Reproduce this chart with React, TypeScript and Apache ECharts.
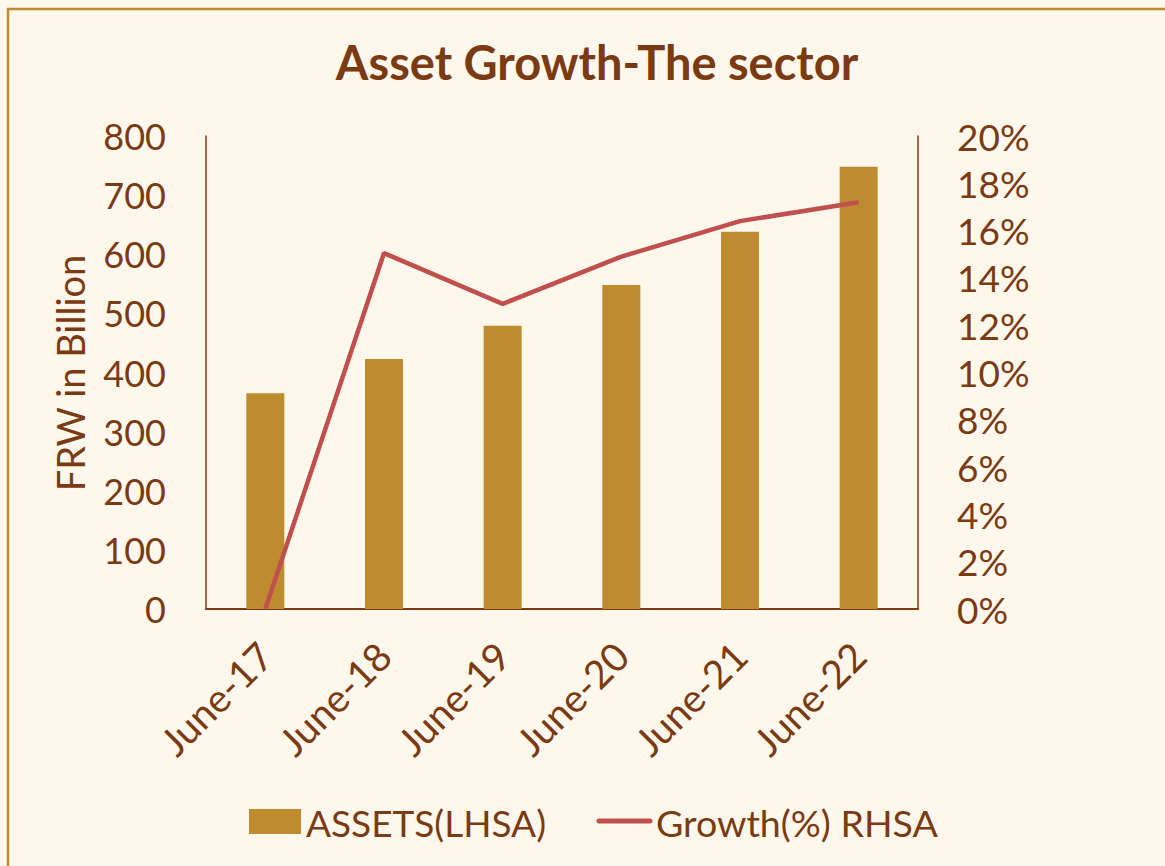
import React, { useEffect, useRef } from "react";
import * as echarts from "echarts";

const categories = ["June-17", "June-18", "June-19", "June-20", "June-21", "June-22"];
const assets = [365, 423, 479, 548, 638, 748];
const growth = [0, 15.05, 12.9, 14.9, 16.4, 17.2];
const legendNames = ["ASSETS(LHSA)", "Growth(%) RHSA"];
const titleText = "Asset Growth-The sector";

const TEXT = "#7A3A12";
const BAR = "#BE8C2E";
const LINE = "#C0504D";
const FONT = "Lato, 'Noto Sans', sans-serif";

export default function App() {
  const ref = useRef<HTMLDivElement>(null);
  useEffect(() => {
    if (!ref.current) return;
    const chart = echarts.init(ref.current, null, { renderer: "svg" });
    chart.setOption({
      animation: false,
      backgroundColor: "#FEF7EC",
      textStyle: { fontFamily: FONT, color: TEXT },
      title: {
        text: titleText,
        left: 592,
        textAlign: "center",
        top: 33,
        textStyle: { fontFamily: FONT, fontSize: 47, fontWeight: "bold", color: TEXT },
      },
      graphic: [
        {
          type: "rect",
          shape: { x: 8, y: 9, width: 1200, height: 900 },
          style: { fill: "none", stroke: "#BE8C2E", lineWidth: 2.5 },
          silent: true,
        },
        {
          type: "text",
          x: 70,
          y: 373,
          rotation: Math.PI / 2,
          style: {
            text: "FRW in Billion",
            fontFamily: FONT,
            fontSize: 38,
            fill: TEXT,
            align: "center",
            verticalAlign: "middle",
          },
        },
        {
          type: "rect",
          shape: { x: 249, y: 809, width: 52, height: 25 },
          style: { fill: BAR },
        },
        {
          type: "text",
          x: 306,
          y: 822,
          style: {
            text: legendNames[0],
            fontFamily: FONT,
            fontSize: 37,
            fill: TEXT,
            align: "left",
            verticalAlign: "middle",
          },
        },
        {
          type: "line",
          shape: { x1: 599, y1: 821, x2: 650, y2: 821 },
          style: { stroke: LINE, lineWidth: 5, lineCap: "round" },
        },
        {
          type: "text",
          x: 656,
          y: 822,
          style: {
            text: legendNames[1],
            fontFamily: FONT,
            fontSize: 37.5,
            fill: TEXT,
            align: "left",
            verticalAlign: "middle",
          },
        },
      ],
      grid: { left: 206, right: 247, top: 136, bottom: 257 },
      xAxis: {
        type: "category",
        data: categories,
        axisLine: { lineStyle: { color: TEXT, width: 2 } },
        axisTick: { show: false },
        axisLabel: { rotate: 45, fontSize: 39, color: TEXT, fontFamily: FONT, margin: 40 },
      },
      yAxis: [
        {
          type: "value",
          min: 0,
          max: 800,
          interval: 100,
          splitLine: { show: false },
          axisLine: { show: true, lineStyle: { color: TEXT, width: 1.5 } },
          axisTick: { show: false },
          axisLabel: { fontSize: 36, color: TEXT, fontFamily: FONT, margin: 40 },
        },
        {
          type: "value",
          min: 0,
          max: 20,
          interval: 2,
          position: "right",
          splitLine: { show: false },
          axisLine: { show: true, lineStyle: { color: TEXT, width: 1.5 } },
          axisTick: { show: false },
          axisLabel: {
            fontSize: 37,
            color: TEXT,
            fontFamily: FONT,
            margin: 39,
            formatter: (v: number) => `${v}%`,
          },
        },
      ],
      series: [
        {
          name: legendNames[0],
          type: "bar",
          data: assets,
          barWidth: 38,
          itemStyle: { color: BAR },
        },
        {
          name: legendNames[1],
          type: "line",
          yAxisIndex: 1,
          data: growth,
          symbol: "none",
          lineStyle: { color: LINE, width: 4.5 },
          itemStyle: { color: LINE },
        },
      ],
    });
    return () => chart.dispose();
  }, []);
  return (
    <div
      ref={ref}
      style={{ position: "fixed", left: 0, top: 0, width: 1165, height: 866 }}
    />
  );
}
